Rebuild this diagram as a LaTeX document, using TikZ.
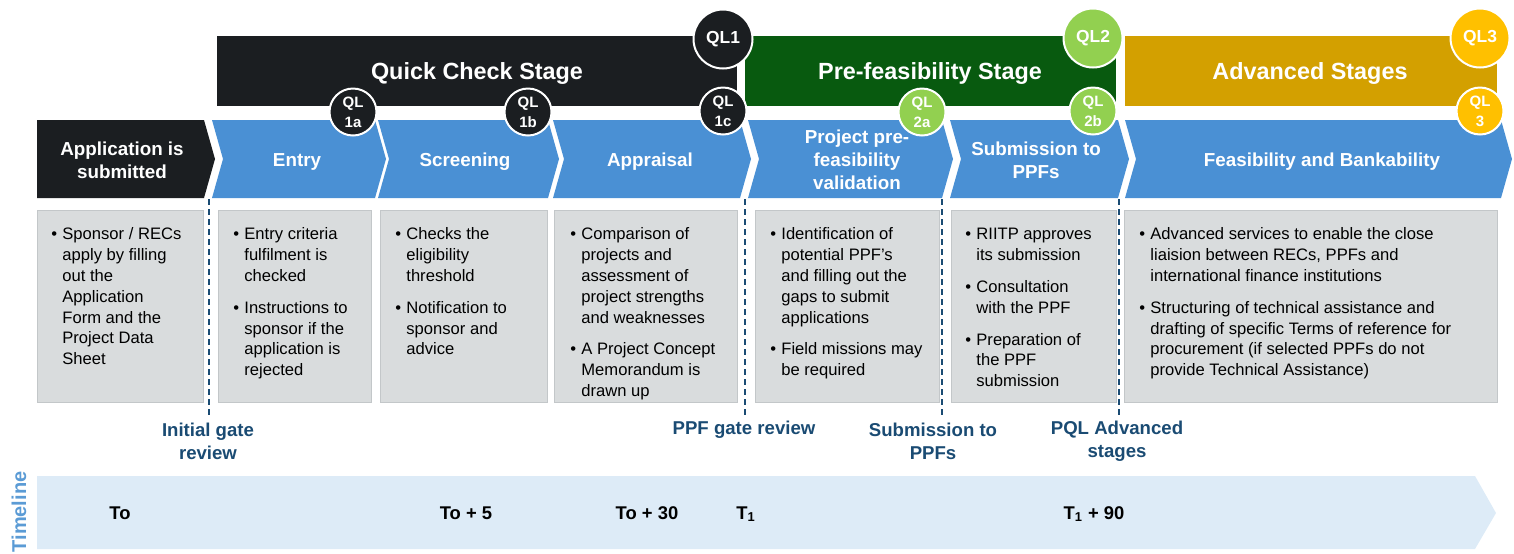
\documentclass[tikz,border=0pt]{standalone}
\usepackage{fontspec}
\setmainfont{Liberation Sans}
\usetikzlibrary{positioning}

\definecolor{qcdark}{HTML}{1B1E21}
\definecolor{chevblue}{HTML}{4A90D4}
\definecolor{pfgreen}{HTML}{085A0F}
\definecolor{qlgreen}{HTML}{92D050}
\definecolor{advgold}{HTML}{D3A000}
\definecolor{qlyellow}{HTML}{FFC000}
\definecolor{boxgray}{HTML}{D9DCDD}
\definecolor{boxline}{HTML}{C3C7C9}
\definecolor{gateblue}{HTML}{1A4B73}
\definecolor{tlfill}{HTML}{DDEBF7}
\definecolor{tlword}{HTML}{5B9BD5}

\newcommand{\bul}{\makebox[5.5pt][l]{\textbullet}}

\tikzset{
  bartitle/.style={text=white, font=\fontsize{11.7}{14}\selectfont\bfseries},
  chevtext/.style={text=white, align=center, font=\fontsize{9.4}{11.5}\selectfont\bfseries},
  qlbig/.style={circle, draw=white, line width=1pt, minimum size=29.5pt, inner sep=0pt,
     text=white, font=\fontsize{8.7}{10}\selectfont\bfseries},
  qlsmall/.style={circle, draw=white, line width=1pt, minimum size=23.5pt, inner sep=0pt,
     text=white, align=center, font=\fontsize{7.5}{10}\selectfont\bfseries},
  infotext/.style={anchor=north west, inner sep=0pt, font=\fontsize{8.3}{10.4}\selectfont},
  gate/.style={text=gateblue, align=center, font=\fontsize{9.3}{11.5}\selectfont\bfseries},
  gateline/.style={gateblue, line width=1pt, dash pattern=on 3pt off 2pt},
  tick/.style={font=\fontsize{9.2}{11}\selectfont\bfseries},
}

\begin{document}
\begin{tikzpicture}[x=0.5pt, y=-0.5pt]
  \useasboundingbox (0,0) rectangle (1514,553);

  % stage bars
  \fill[qcdark] (217,36) rectangle (737,106);
  \fill[pfgreen] (745,36) rectangle (1116,106);
  \fill[advgold] (1125,36) rectangle (1497,106);
  \node[bartitle] (quick) at (477,73) {Quick Check Stage};
  \node[bartitle] (prefeas) at (930,73) {Pre-feasibility Stage};
  \node[bartitle] (advanced) at (1310,73) {Advanced Stages};

  % process chevrons
  \fill[qcdark] (37,120) -- (204,120) -- (215,159) -- (204,198) -- (37,198) -- cycle;
  \foreach \l/\r in {212/375,378/548,553/740,748/942,950/1118,1125/1501}{
    \fill[chevblue] (\l,120) -- (\r,120) -- (\r+11,159) -- (\r,198) -- (\l,198) -- (\l+11,159) -- cycle;
  }

  % QL markers
  \node[qlbig, fill=qcdark] (ql1) at (723,39) {QL1};
  \node[qlbig, fill=qlgreen] (ql2) at (1093,38) {QL2};
  \node[qlbig, fill=qlyellow] (ql3) at (1480,38) {QL3};
  \node[qlsmall, fill=qcdark] (ql1a) at (353,112) {QL\\1a};
  \node[qlsmall, fill=qcdark] (ql1b) at (528,112) {QL\\1b};
  \node[qlsmall, fill=qcdark] (ql1c) at (723,111) {QL\\1c};
  \node[qlsmall, fill=qlgreen] (ql2a) at (922,112) {QL\\2a};
  \node[qlsmall, fill=qlgreen] (ql2b) at (1093,111) {QL\\2b};
  \node[qlsmall, fill=qlyellow] (ql3s) at (1480,111) {QL\\3};

  \node[chevtext] (apply) at (122,160) {Application is\\submitted};
  \node[chevtext] (entry) at (297,162) {Entry};
  \node[chevtext] (screen) at (465,162) {Screening};
  \node[chevtext] (apprais) at (650,162) {Appraisal};
  \node[chevtext] (valid) at (857,160) {Project pre-\\feasibility\\validation};
  \node[chevtext] (submit) at (1036,160) {Submission to\\PPFs};
  \node[chevtext] (bank) at (1322,162) {Feasibility and Bankability};

  % detail boxes
  \foreach \l/\r in {37/203,218/371,380/547,554/737,755/939,951/1116,1124/1497}{
    \filldraw[fill=boxgray, draw=boxline, line width=0.4pt] (\l,210) rectangle (\r,402);
  }
  \node[infotext] (txt1) at (51,225) {\begin{tabular}{@{}l@{}l@{}}
    \bul & Sponsor / RECs\\ & apply by filling\\ & out the\\ & Application\\
    & Form and the\\ & Project Data\\ & Sheet\end{tabular}};
  \node[infotext] (txt2) at (233,225) {\begin{tabular}{@{}l@{}l@{}}
    \bul & Entry criteria\\ & fulfilment is\\ & checked\\[5.5pt]
    \bul & Instructions to\\ & sponsor if the\\ & application is\\ & rejected\end{tabular}};
  \node[infotext] (txt3) at (395,225) {\begin{tabular}{@{}l@{}l@{}}
    \bul & Checks the\\ & eligibility\\ & threshold\\[5.5pt]
    \bul & Notification to\\ & sponsor and\\ & advice\end{tabular}};
  \node[infotext] (txt4) at (570,225) {\begin{tabular}{@{}l@{}l@{}}
    \bul & Comparison of\\ & projects and\\ & assessment of\\ & project strengths\\
    & and weaknesses\\[5.5pt]
    \bul & A Project Concept\\ & Memorandum is\\ & drawn up\end{tabular}};
  \node[infotext] (txt5) at (770,225) {\begin{tabular}{@{}l@{}l@{}}
    \bul & Identification of\\ & potential PPF's\\ & and filling out the\\ & gaps to submit\\
    & applications\\[5.5pt]
    \bul & Field missions may\\ & be required\end{tabular}};
  \node[infotext] (txt6) at (965,225) {\begin{tabular}{@{}l@{}l@{}}
    \bul & RIITP approves\\ & its submission\\[5.5pt]
    \bul & Consultation\\ & with the PPF\\[5.5pt]
    \bul & Preparation of\\ & the PPF\\ & submission\end{tabular}};
  \node[infotext] (txt7) at (1139,225) {\begin{tabular}{@{}l@{}l@{}}
    \bul & Advanced services to enable the close\\ & liaision between RECs, PPFs and\\
    & international finance institutions\\[5.5pt]
    \bul & Structuring of technical assistance and\\ & drafting of specific Terms of reference for\\
    & procurement (if selected PPFs do not\\ & provide Technical Assistance)\end{tabular}};

  % gate reviews
  \foreach \x [count=\i] in {209,745,942,1119}{
    \coordinate (cut\i) at (\x,199);
    \draw[gateline] (cut\i) -- ++(0,217);
  }
  \node[gate] (gate1) at (208,441) {Initial gate\\review};
  \node[gate] (gate2) at (744,430) {PPF gate review};
  \node[gate] (gate3) at (933,441) {Submission to\\PPFs};
  \node[gate] (gate4) at (1117,441) {PQL Advanced\\stages};

  % timeline
  \fill[tlfill] (37,476) -- (1475,476) -- (1496,513) -- (1475,549) -- (37,549) -- cycle;
  \node[rotate=90, text=tlword, font=\fontsize{10}{12}\selectfont\bfseries] (tline) at (19,512) {Timeline};
  \node[tick] (t0) at (120,513) {To};
  \node[tick] (t5) at (466,513) {To + 5};
  \node[tick] (t30) at (647,513) {To + 30};
  \node[tick] (t1) at (746,514) {T\textsubscript{1}};
  \node[tick] (t90) at (1094,514) {T\textsubscript{1} + 90};
\end{tikzpicture}
\end{document}
